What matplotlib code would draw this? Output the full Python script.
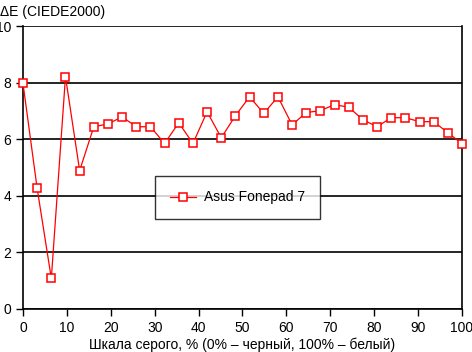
import matplotlib.pyplot as plt

plt.rcParams['font.family'] = ['Liberation Sans', 'DejaVu Sans']

# Gray level, % and measured deltaE values
gray_pct = [i * 100 / 31 for i in range(32)]
delta_e = [7.97, 4.26, 1.08, 8.21, 4.89, 6.44, 6.54, 6.79, 6.44, 6.44,
           5.85, 6.58, 5.85, 6.97, 6.05, 6.83, 7.50, 6.91, 7.50, 6.51,
           6.94, 7.01, 7.22, 7.13, 6.69, 6.44, 6.76, 6.76, 6.62, 6.62,
           6.23, 5.84]
x_ticks = [0, 10, 20, 30, 40, 50, 60, 70, 80, 90, 100]
y_ticks = [0, 2, 4, 6, 8, 10]

fig = plt.figure(figsize=(4.72, 3.52), dpi=100)
ax = fig.add_axes([23 / 472, 1 - 309 / 352, 439 / 472, 283 / 352])

ax.plot(gray_pct, delta_e, color='#ff0000', lw=0.9, marker='s', ms=6,
        mfc='white', mec='#ff0000', mew=1.1, label='Asus Fonepad 7',
        clip_on=False, zorder=3)

ax.set_xlim(0, 100)
ax.set_ylim(0, 10)
ax.set_xticks(x_ticks)
ax.set_yticks(y_ticks)
ax.grid(axis='y', color='black', lw=1.2)
ax.set_axisbelow(True)
for s in ['left', 'right', 'bottom']:
    ax.spines[s].set_color('black')
    ax.spines[s].set_linewidth(1.2)
ax.spines['top'].set_visible(False)
ax.tick_params(direction='out', length=5, width=1, labelsize=10, colors='black')

ax.set_xlabel('Шкала серого, % (0% – черный, 100% – белый)', fontsize=10, labelpad=2)
fig.text(0.0, 1 - 12 / 352, 'ΔE (CIEDE2000)', fontsize=10, va='center', ha='left')

leg = ax.legend(loc='center', bbox_to_anchor=((237.5 - 23) / 439, (309 - 197.5) / 283),
                frameon=True, fancybox=False, fontsize=10, borderpad=1.05,
                handlelength=1.9, handletextpad=0.6, borderaxespad=0)
leg.get_frame().set_edgecolor('black')
leg.get_frame().set_linewidth(1.0)

fig.savefig('out.png', dpi=100)
